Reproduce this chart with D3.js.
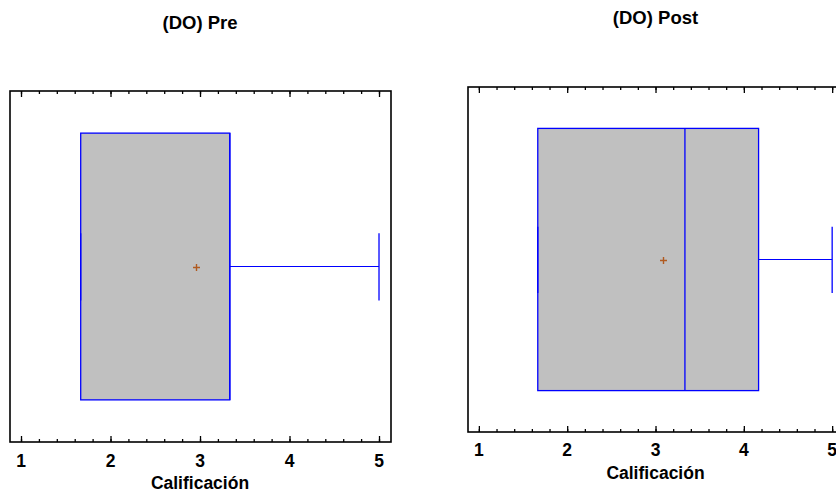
<!DOCTYPE html>
<html>
<head>
<meta charset="utf-8">
<script src="https://cdn.jsdelivr.net/npm/d3@7"></script>
<style>
  body { margin: 0; background: #fff; }
  text { font-family: "Liberation Sans", Arial, sans-serif; font-weight: bold; fill: #000; }
</style>
</head>
<body>
<svg id="chart" width="836" height="493"></svg>
<script>
// data
const titles = ["(DO) Pre", "(DO) Post"];
const mins = [1.667, 1.667];
const q1s = [1.667, 1.667];
const medians = [3.333, 3.333];
const q3s = [3.333, 4.167];
const maxs = [5, 5];
const means = [2.95, 3.09];
const tickLabels = [1, 2, 3, 4, 5];
const xLabel = "Calificación";

// panel placement (layout only)
const panels = [
    { left: 10, top: 91, width: 381, height: 351, titleY: 28.5, tickY: 466.5, labelY: 489 },
    { left: 468, top: 87, width: 376, height: 345, titleY: 23.5, tickY: 456, labelY: 479 }
];

const svg = d3.select("#chart");

panels.forEach((p, i) => {
    let x = d3.scaleLinear().domain([0.877, 5.134]).range([p.left, p.left + p.width]);
    let y = d3.scaleLinear().domain([0, 1]).range([p.top, p.top + p.height]);
    let g = svg.append("g");
    let cy = y(0.5);

    // box
    g.append("rect")
        .attr("x", x(q1s[i]))
        .attr("y", y(0.12))
        .attr("width", x(q3s[i]) - x(q1s[i]))
        .attr("height", y(0.88) - y(0.12))
        .style("fill", "#c0c0c0")
        .style("stroke", "#0000ff")
        .style("stroke-width", 1.3);

    // median
    g.append("line")
        .attr("x1", x(medians[i])).attr("x2", x(medians[i]))
        .attr("y1", y(0.12)).attr("y2", y(0.88))
        .style("stroke", "#0000ff").style("stroke-width", 1.3);

    // whiskers
    [[mins[i], q1s[i]], [q3s[i], maxs[i]]].forEach(w => {
        g.append("line")
            .attr("x1", x(w[0])).attr("x2", x(w[1]))
            .attr("y1", cy).attr("y2", cy)
            .style("stroke", "#0000ff").style("stroke-width", 1.2);
    });
    [mins[i], maxs[i]].forEach(v => {
        g.append("line")
            .attr("x1", x(v)).attr("x2", x(v))
            .attr("y1", y(0.405)).attr("y2", y(0.597))
            .style("stroke", "#0000ff").style("stroke-width", 1.3);
    });

    // mean marker, snapped to pixel centres so it stays crisp
    let mx = Math.round(x(means[i])) + 0.5;
    let my = Math.round(cy) + 0.5;
    g.append("path")
        .attr("d", "M" + (mx - 3.5) + "," + my + "H" + (mx + 3.5) + "M" + mx + "," + (my - 3.5) + "V" + (my + 3.5))
        .style("stroke", "#b05a20").style("stroke-width", 1.4);

    // frame
    g.append("rect")
        .attr("x", p.left).attr("y", p.top)
        .attr("width", p.width).attr("height", p.height)
        .style("fill", "none").style("stroke", "#000").style("stroke-width", 1.6);

    // ticks, pointing inward
    let minor = d3.range(1, 5.01, 0.2);
    let addAxis = (axisFn, yPos, ticks, size) => {
        let a = g.append("g")
            .attr("transform", "translate(0," + yPos + ")")
            .call(axisFn(x).tickValues(ticks).tickSize(size).tickFormat(""));
        a.select(".domain").remove();
        a.selectAll(".tick line").style("stroke", "#000").style("stroke-width", 1.3);
    };
    addAxis(d3.axisBottom, p.top + p.height, minor, -3);
    addAxis(d3.axisBottom, p.top + p.height, tickLabels, -6);
    addAxis(d3.axisTop, p.top, minor, -3);
    addAxis(d3.axisTop, p.top, tickLabels, -6);

    // tick labels
    g.selectAll(".lbl")
        .data(tickLabels)
        .join("text")
        .attr("x", d => x(d))
        .attr("y", p.tickY)
        .attr("text-anchor", "middle")
        .style("font-size", "17.5px")
        .text(d => d);

    g.append("text")
        .attr("x", x(3))
        .attr("y", p.labelY)
        .attr("text-anchor", "middle")
        .style("font-size", "17.5px")
        .text(xLabel);

    g.append("text")
        .attr("x", x(3))
        .attr("y", p.titleY)
        .attr("text-anchor", "middle")
        .style("font-size", "18.5px")
        .text(titles[i]);
});
</script>
</body>
</html>
